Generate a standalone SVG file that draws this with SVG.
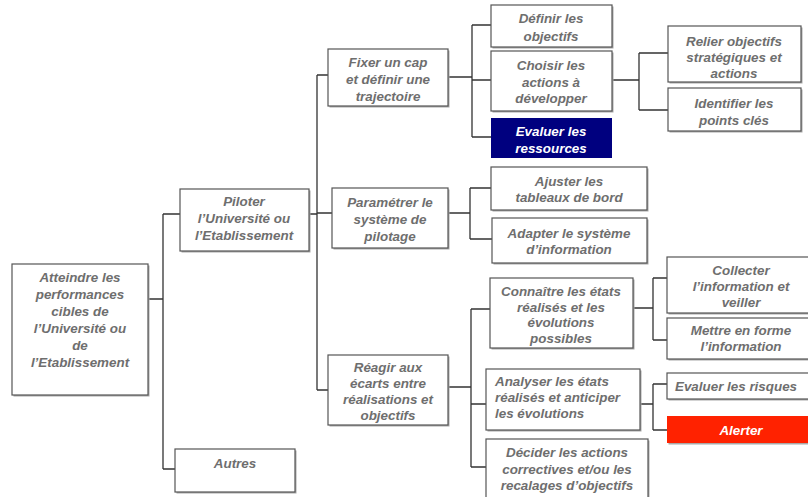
<svg xmlns="http://www.w3.org/2000/svg" width="808" height="497" viewBox="0 0 808 497">
<style>
.b{fill:#fff;stroke:#555;stroke-width:1.2}
.s{fill:#a8a8a8}
.t{font-family:"Liberation Sans",Arial,sans-serif;font-weight:bold;font-style:italic;font-size:13.4px;fill:#6e6e6e;text-anchor:middle}
.w{fill:#fff}
.c{fill:none;stroke:#333;stroke-width:1.3}
</style>
<rect width="808" height="497" fill="#fff"/>
<g id="connectors">
<path class="c" d="M148 299H163M163 214V469M163 214H180M163 469H175"/>
<path class="c" d="M309 214H317M317 75V390M317 75H328M317 213H332M317 390H328"/>
<path class="c" d="M448 77H472M472 25V137M472 25H491M472 137H491M472 80H491"/>
<path class="c" d="M612 80H639M639 53V110M639 53H668M639 110H668"/>
<path class="c" d="M448 213H470M470 188V239M470 188H491M470 239H492"/>
<path class="c" d="M448 387H471M471 309V467M471 309H490M471 404H486M471 467H486"/>
<path class="c" d="M633 308H653M653 278V340M653 278H667M653 340H667"/>
<path class="c" d="M640 404H653M653 384V430M653 384H667M653 430H667"/>
</g>
<g id="n-atteindre"><rect class="s" x="13.5" y="265.5" width="136" height="131"/><rect class="b" x="12" y="264" width="136" height="131"/>
<text class="t"><tspan x="80" y="282">Atteindre les</tspan><tspan x="80" y="299">performances</tspan><tspan x="80" y="316">cibles de</tspan><tspan x="80" y="333">l’Université ou</tspan><tspan x="80" y="350">de</tspan><tspan x="80" y="367">l’Etablissement</tspan></text></g>
<g id="n-piloter"><rect class="s" x="181.5" y="190.5" width="129" height="62"/><rect class="b" x="180" y="189" width="129" height="62"/>
<text class="t"><tspan x="244" y="206">Piloter</tspan><tspan x="244" y="223">l’Université ou</tspan><tspan x="244" y="240">l’Etablissement</tspan></text></g>
<g id="n-autres"><rect class="s" x="176.5" y="450.5" width="120" height="43"/><rect class="b" x="175" y="449" width="120" height="43"/>
<text class="t" x="235" y="468">Autres</text></g>
<g id="n-fixer"><rect class="s" x="329.5" y="50.5" width="120" height="57"/><rect class="b" x="328" y="49" width="120" height="57"/>
<text class="t"><tspan x="388" y="67">Fixer un cap</tspan><tspan x="388" y="84">et définir une</tspan><tspan x="388" y="101">trajectoire</tspan></text></g>
<g id="n-parametrer"><rect class="s" x="333.5" y="189.5" width="116" height="60"/><rect class="b" x="332" y="188" width="116" height="60"/>
<text class="t"><tspan x="390" y="207">Paramétrer le</tspan><tspan x="390" y="224">système de</tspan><tspan x="390" y="241">pilotage</tspan></text></g>
<g id="n-reagir"><rect class="s" x="329.5" y="356.5" width="120" height="70"/><rect class="b" x="328" y="355" width="120" height="70"/>
<text class="t"><tspan x="388" y="372">Réagir aux</tspan><tspan x="388" y="388">écarts entre</tspan><tspan x="388" y="404">réalisations et</tspan><tspan x="388" y="420">objectifs</tspan></text></g>
<g id="n-definir"><rect class="s" x="492.5" y="6.5" width="121" height="42"/><rect class="b" x="491" y="5" width="121" height="42"/>
<text class="t"><tspan x="551" y="23">Définir les</tspan><tspan x="551" y="41">objectifs</tspan></text></g>
<g id="n-choisir"><rect class="s" x="492.5" y="52.5" width="121" height="60"/><rect class="b" x="491" y="51" width="121" height="60"/>
<text class="t"><tspan x="551" y="70">Choisir les</tspan><tspan x="551" y="87">actions à</tspan><tspan x="551" y="103">développer</tspan></text></g>
<g id="n-evaluer-ressources"><rect x="491" y="118" width="121" height="40" fill="#00007f"/>
<text class="t w"><tspan x="551" y="136">Evaluer les</tspan><tspan x="551" y="153">ressources</tspan></text></g>
<g id="n-relier"><rect class="s" x="669.5" y="27.5" width="133" height="56"/><rect class="b" x="668" y="26" width="133" height="56"/>
<text class="t"><tspan x="734" y="46">Relier objectifs</tspan><tspan x="734" y="62">stratégiques et</tspan><tspan x="734" y="78">actions</tspan></text></g>
<g id="n-identifier"><rect class="s" x="669.5" y="89.5" width="133" height="43"/><rect class="b" x="668" y="88" width="133" height="43"/>
<text class="t"><tspan x="734" y="108">Identifier les</tspan><tspan x="734" y="125">points clés</tspan></text></g>
<g id="n-ajuster"><rect class="s" x="492.5" y="168.5" width="156" height="43"/><rect class="b" x="491" y="167" width="156" height="43"/>
<text class="t"><tspan x="569" y="186">Ajuster les</tspan><tspan x="569" y="202">tableaux de bord</tspan></text></g>
<g id="n-adapter"><rect class="s" x="493.5" y="219.5" width="155" height="45"/><rect class="b" x="492" y="218" width="155" height="45"/>
<text class="t"><tspan x="569" y="238">Adapter le système</tspan><tspan x="569" y="254">d’information</tspan></text></g>
<g id="n-connaitre"><rect class="s" x="491.5" y="279.5" width="143" height="70"/><rect class="b" x="490" y="278" width="143" height="70"/>
<text class="t"><tspan x="561" y="296">Connaître les états</tspan><tspan x="561" y="312">réalisés et les</tspan><tspan x="561" y="327">évolutions</tspan><tspan x="561" y="343">possibles</tspan></text></g>
<g id="n-analyser"><rect class="s" x="487.5" y="370.5" width="154" height="61"/><rect class="b" x="486" y="369" width="154" height="61"/>
<text class="t" style="text-anchor:start"><tspan x="495" y="386">Analyser les états</tspan><tspan x="495" y="402">réalisés et anticiper</tspan><tspan x="495" y="418">les évolutions</tspan></text></g>
<g id="n-decider"><rect class="s" x="487.5" y="440.5" width="162" height="60"/><rect class="b" x="486" y="439" width="162" height="60"/>
<text class="t"><tspan x="567" y="457">Décider les actions</tspan><tspan x="567" y="474">correctives et/ou les</tspan><tspan x="567" y="490">recalages d’objectifs</tspan></text></g>
<g id="n-collecter"><rect class="s" x="668.5" y="258.5" width="145" height="56"/><rect class="b" x="667" y="257" width="145" height="56"/>
<text class="t"><tspan x="741" y="275">Collecter</tspan><tspan x="741" y="291">l’information et</tspan><tspan x="741" y="307">veiller</tspan></text></g>
<g id="n-mettre"><rect class="s" x="668.5" y="319.5" width="145" height="41"/><rect class="b" x="667" y="318" width="145" height="41"/>
<text class="t"><tspan x="741" y="335">Mettre en forme</tspan><tspan x="741" y="351">l’information</tspan></text></g>
<g id="n-risques"><rect class="s" x="668.5" y="374.5" width="145" height="26"/><rect class="b" x="667" y="373" width="145" height="26"/>
<text class="t" x="736" y="391">Evaluer les risques</text></g>
<g id="n-alerter"><rect x="668.5" y="417.5" width="145" height="27" fill="#a8a8a8"/><rect x="667" y="416" width="145" height="27" fill="#ff2200"/>
<text class="t w" x="741" y="435">Alerter</text></g>
</svg>
